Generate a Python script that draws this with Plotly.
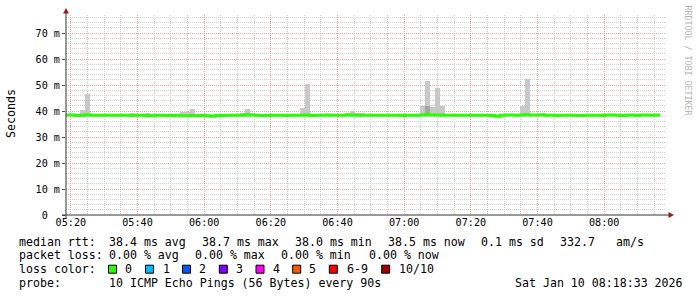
import pandas as pd
import plotly.graph_objects as go

# ---------------- data ----------------
first_step = "2026-01-10 05:18:15"   # start of first 90 s consolidation step
step_seconds = 90
x_start = "2026-01-10 05:18:33"
x_end = "2026-01-10 08:18:33"

median_ms = [
    38.5, 38.5, 38.3, 38.4, 38.6, 38.4, 38.4, 38.4, 38.4, 38.4,
    38.4, 38.4, 38.4, 38.3, 38.4, 38.4, 38.3, 38.2, 38.4, 38.4,
    38.3, 38.3, 38.4, 38.2, 38.2, 38.3, 38.3, 38.3, 38.2, 38.0,
    38.3, 38.3, 38.4, 38.4, 38.4, 38.4, 38.6, 38.5, 38.4, 38.3,
    38.3, 38.4, 38.4, 38.4, 38.3, 38.4, 38.4, 38.4, 38.5, 38.3,
    38.4, 38.4, 38.5, 38.4, 38.4, 38.4, 38.5, 38.5, 38.4, 38.4,
    38.4, 38.4, 38.4, 38.4, 38.4, 38.4, 38.4, 38.3, 38.4, 38.4,
    38.4, 38.5, 38.7, 38.5, 38.5, 38.4, 38.4, 38.4, 38.4, 38.4,
    38.4, 38.4, 38.4, 38.4, 38.4, 38.3, 38.0, 38.4, 38.5, 38.5,
    38.4, 38.5, 38.6, 38.5, 38.5, 38.5, 38.4, 38.4, 38.3, 38.4,
    38.4, 38.4, 38.3, 38.3, 38.4, 38.4, 38.4, 38.3, 38.5, 38.5,
    38.4, 38.3, 38.4, 38.5, 38.3, 38.5, 38.5, 38.4, 38.5,
]

smoke_max_ms = [
    38.8, 38.8, 38.9, 40.4, 46.7, 38.8, 38.7, 38.7, 38.7, 38.7,
    38.7, 38.7, 38.7, 39.1, 38.7, 38.7, 39.2, 39.0, 38.7, 38.7,
    38.6, 38.6, 38.7, 39.5, 39.5, 40.8, 38.7, 38.6, 38.6, 38.4,
    38.6, 38.6, 38.7, 38.7, 38.7, 39.1, 40.8, 38.8, 38.7, 38.6,
    38.6, 38.7, 38.7, 38.7, 38.6, 38.7, 38.7, 41.2, 50.5, 38.6,
    38.7, 38.7, 38.8, 38.9, 38.9, 38.7, 39.3, 40.0, 39.2, 39.2,
    38.7, 38.7, 38.7, 38.7, 38.7, 38.7, 38.7, 38.6, 38.7, 38.7,
    38.7, 41.8, 51.7, 41.4, 48.8, 41.8, 38.7, 38.7, 38.7, 38.7,
    38.7, 38.7, 38.7, 38.7, 38.7, 38.6, 38.4, 38.9, 38.8, 38.8,
    38.7, 42.0, 52.4, 38.8, 38.8, 39.2, 38.7, 38.7, 38.6, 38.7,
    38.7, 38.7, 38.6, 38.6, 38.7, 38.7, 38.7, 38.6, 39.0, 38.8,
    38.7, 38.6, 38.7, 38.8, 38.6, 38.8, 38.8, 38.7, 38.8,
]

smoke_min_ms = [
    38.1, 38.1, 37.6, 37.7, 38.0, 37.9, 38.1, 38.1, 38.1, 38.1,
    38.1, 38.1, 38.1, 38.0, 38.1, 38.1, 38.0, 37.8, 38.1, 38.1,
    38.0, 38.0, 38.1, 37.9, 37.9, 38.0, 38.0, 38.0, 37.9, 37.7,
    38.0, 38.0, 38.1, 38.1, 38.1, 38.1, 38.2, 38.2, 38.1, 38.0,
    38.0, 38.1, 38.1, 38.1, 38.0, 38.1, 38.1, 38.1, 38.2, 38.0,
    38.1, 38.1, 38.2, 38.1, 38.1, 38.1, 38.2, 38.2, 38.1, 38.1,
    38.1, 38.1, 38.1, 38.1, 38.1, 38.1, 38.1, 38.0, 38.1, 38.1,
    38.1, 38.1, 38.2, 38.2, 38.2, 38.1, 38.1, 38.1, 38.1, 38.1,
    38.1, 38.1, 38.1, 38.1, 38.1, 38.0, 37.7, 38.1, 38.2, 38.2,
    38.1, 38.2, 38.3, 38.2, 38.2, 38.2, 38.1, 38.1, 38.0, 38.1,
    38.1, 38.1, 37.7, 37.7, 38.1, 38.1, 38.1, 38.0, 38.2, 38.2,
    38.1, 38.0, 38.1, 38.2, 38.0, 38.2, 38.2, 38.1, 38.2,
]

# inner (darker) smoke band: step index, low, high
inner_steps = [72]
inner_min_ms = [38.2]
inner_max_ms = [41.8]

y_tick_values = [0, 10, 20, 30, 40, 50, 60, 70]
y_tick_text = ["0\u00a0\u00a0", "10 m", "20 m", "30 m", "40 m", "50 m", "60 m", "70 m"]

legend_rows = [
    ["median rtt:", "38.4 ms avg", "38.7 ms max", "38.0 ms min", "38.5 ms now", "0.1 ms sd", "332.7", "am/s"],
    ["packet loss:", "0.00 % avg", "0.00 % max", "0.00 % min", "0.00 % now"],
    ["loss color:"],
    ["probe:", "10 ICMP Echo Pings (56 Bytes) every 90s", "Sat Jan 10 08:18:33 2026"],
]
loss_labels = ["0", "1", "2", "3", "4", "5", "6-9", "10/10"]
loss_colors = ["#26ff00", "#00b8ff", "#0059ff", "#7e00ff", "#ff00ff", "#ff5500", "#ff0000", "#a10000"]

# ---------------- layout geometry (pixels) ----------------
W, H = 697, 297
PL, PR, PT, PB = 66, 666, 15, 215          # plot area edges
MONO = "DejaVu Sans Mono"
LEG_SIZE = 11.6
AX_SIZE = 10.15

legend_x = [
    [16.7, 107.3, 200.0, 293.3, 386.0, 479.3, 558.3, 614.0],
    [16.7, 107.3, 193.3, 279.3, 366.5],
    [16.7],
    [16.7, 107.3, 513.3],
]
legend_y = [241.5, 255.3, 269.2, 283.0]
box_x = [108.5, 145.5, 182.5, 219.3, 256.0, 292.7, 329.3, 381.7]
label_x = [123.3, 160.7, 197.3, 234.0, 270.7, 307.3, 345.0, 396.7]


def px(x):
    return (x - PL) / (PR - PL)


def py(y):
    return (PB - y) / (PB - PT)


# ---------------- build figure ----------------
starts = pd.date_range(first_step, periods=len(median_ms), freq=f"{step_seconds}s")
centers = starts + pd.Timedelta(seconds=step_seconds / 2)
edges = list(starts) + [starts[-1] + pd.Timedelta(seconds=step_seconds)]

fig = go.Figure()

fig.add_trace(go.Bar(
    x=centers,
    base=smoke_min_ms,
    y=[hi - lo for hi, lo in zip(smoke_max_ms, smoke_min_ms)],
    width=step_seconds * 1000,
    marker=dict(color="#c8c8c8", line=dict(width=0)),
    hoverinfo="skip",
))
fig.add_trace(go.Bar(
    x=[centers[i] for i in inner_steps],
    base=inner_min_ms,
    y=[hi - lo for hi, lo in zip(inner_max_ms, inner_min_ms)],
    width=step_seconds * 1000,
    marker=dict(color="#a6a6a6", line=dict(width=0)),
    hoverinfo="skip",
))
fig.add_trace(go.Scatter(
    x=edges,
    y=list(median_ms) + [median_ms[-1]],
    mode="lines",
    line=dict(color="#26ff00", width=3, shape="hv"),
    hoverinfo="skip",
))

annotations = []
for row, xs, yv in zip(legend_rows, legend_x, legend_y):
    for txt, xv in zip(row, xs):
        annotations.append(dict(
            text=txt, x=px(xv), y=py(yv), xref="paper", yref="paper",
            xanchor="left", yanchor="middle", showarrow=False,
            font=dict(family=MONO, size=LEG_SIZE, color="#000000"),
        ))
shapes = []
for lab, col, bx, lx in zip(loss_labels, loss_colors, box_x, label_x):
    shapes.append(dict(
        type="rect", xref="paper", yref="paper",
        x0=px(bx), x1=px(bx + 8), y0=py(legend_y[2] + 4), y1=py(legend_y[2] - 4),
        fillcolor=col, line=dict(color="#000000", width=1), layer="above",
    ))
    annotations.append(dict(
        text=lab, x=px(lx), y=py(legend_y[2]), xref="paper", yref="paper",
        xanchor="left", yanchor="middle", showarrow=False,
        font=dict(family=MONO, size=LEG_SIZE, color="#000000"),
    ))

# y-axis title and watermark
annotations.append(dict(
    text="Seconds", x=px(11), y=py(114), xref="paper", yref="paper",
    textangle=-90, showarrow=False, xanchor="center", yanchor="middle",
    font=dict(family=MONO, size=LEG_SIZE, color="#000000"),
))
annotations.append(dict(
    text="RRDTOOL / TOBI OETIKER", x=px(687.5), y=py(60), xref="paper", yref="paper",
    textangle=90, showarrow=False, xanchor="center", yanchor="middle",
    font=dict(family=MONO, size=8.3, color="#b4b4b4"),
))

# axis lines and arrows
axis_col = "#333333"
arrow_col = "#9b1c1c"
shapes += [
    dict(type="line", xref="paper", yref="paper", x0=px(62), x1=px(669), y0=py(215), y1=py(215),
         line=dict(color=axis_col, width=1), layer="above"),
    dict(type="line", xref="paper", yref="paper", x0=px(66), x1=px(66), y0=py(218), y1=py(11),
         line=dict(color=axis_col, width=1), layer="above"),
    dict(type="path", xref="paper", yref="paper", layer="above",
         path=f"M {px(668.5)} {py(212)} L {px(674)} {py(215)} L {px(668.5)} {py(218)} Z",
         fillcolor=arrow_col, line=dict(color=arrow_col, width=0)),
    dict(type="path", xref="paper", yref="paper", layer="above",
         path=f"M {px(63)} {py(13.5)} L {px(66)} {py(8)} L {px(69)} {py(13.5)} Z",
         fillcolor=arrow_col, line=dict(color=arrow_col, width=0)),
]

major_grid = "#e6a3a3"
minor_grid = "#cfcfcf"

fig.update_layout(
    width=W, height=H,
    margin=dict(l=PL, r=W - PR, t=PT, b=H - PB, pad=0),
    paper_bgcolor="#ffffff", plot_bgcolor="#ffffff",
    showlegend=False, barmode="overlay", bargap=0,
    font=dict(family=MONO, size=LEG_SIZE, color="#000000"),
    annotations=annotations, shapes=shapes,
    xaxis=dict(
        type="date", range=[x_start, x_end],
        tick0="2026-01-10 05:20:00", dtick=20 * 60 * 1000, tickformat="%H:%M",
        tickfont=dict(family=MONO, size=AX_SIZE, color="#000000"),
        ticks="", showline=False, zeroline=False,
        showgrid=True, gridcolor=major_grid, griddash="1px,1px", gridwidth=1,
        minor=dict(tick0="2026-01-10 05:20:00", dtick=5 * 60 * 1000, showgrid=True,
                   gridcolor=minor_grid, griddash="1px,1px", gridwidth=1),
        fixedrange=True,
    ),
    yaxis=dict(
        range=[0, 200 / 2.6],
        tickmode="array", tickvals=y_tick_values, ticktext=y_tick_text,
        tickfont=dict(family=MONO, size=AX_SIZE, color="#000000"),
        ticks="outside", ticklen=3, tickcolor="#555555", tickwidth=1,
        showline=False, zeroline=False,
        showgrid=True, gridcolor=major_grid, griddash="1px,1px", gridwidth=1,
        minor=dict(dtick=2, tick0=0, showgrid=True, gridcolor=minor_grid,
                   griddash="1px,1px", gridwidth=1),
        fixedrange=True,
    ),
)

fig.write_html("out.html")
